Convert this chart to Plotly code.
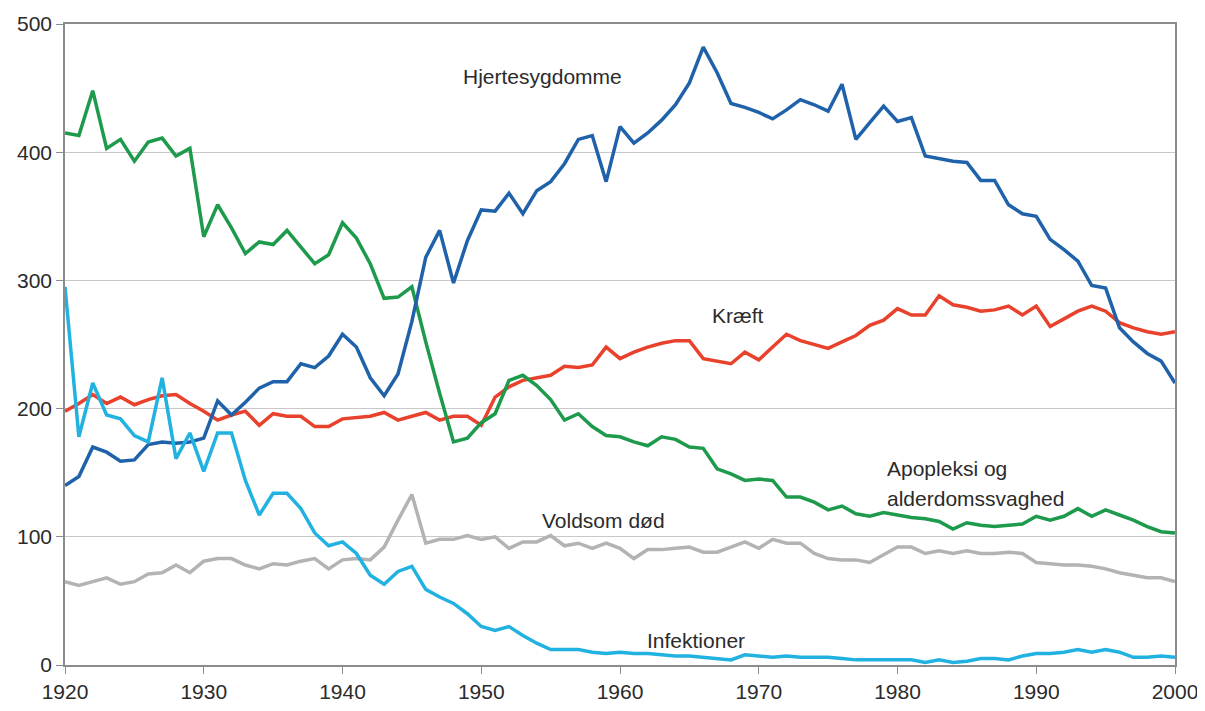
import plotly.graph_objects as go

years = list(range(1920, 2001))

hjerte = [140, 147, 170, 166, 159, 160, 172, 174, 173, 174,
          177, 206, 195, 205, 216, 221, 221, 235, 232, 241,
          258, 248, 224, 210, 227, 268, 318, 339, 298, 331,
          355, 354, 368, 352, 370, 377, 391, 410, 413, 377,
          420, 407, 415, 425, 437, 454, 482, 462, 438, 435,
          431, 426, 433, 441, 437, 432, 453, 410, 423, 436,
          424, 427, 397, 395, 393, 392, 378, 378, 359, 352,
          350, 332, 324, 315, 296, 294, 263, 252, 243, 237,
          220]

kraeft = [198, 204, 211, 204, 209, 203, 207, 210, 211, 204,
          198, 191, 195, 198, 187, 196, 194, 194, 186, 186,
          192, 193, 194, 197, 191, 194, 197, 191, 194, 194,
          187, 209, 217, 222, 224, 226, 233, 232, 234, 248,
          239, 244, 248, 251, 253, 253, 239, 237, 235, 244,
          238, 248, 258, 253, 250, 247, 252, 257, 265, 269,
          278, 273, 273, 288, 281, 279, 276, 277, 280, 273,
          280, 264, 270, 276, 280, 276, 267, 263, 260, 258,
          260]

apopleksi = [415, 413, 448, 403, 410, 393, 408, 411, 397, 403,
             334, 359, 341, 321, 330, 328, 339, 326, 313, 320,
             345, 333, 313, 286, 287, 295, 252, 212, 174, 177,
             189, 196, 222, 226, 218, 207, 191, 196, 186, 179,
             178, 174, 171, 178, 176, 170, 169, 153, 149, 144,
             145, 144, 131, 131, 127, 121, 124, 118, 116, 119,
             117, 115, 114, 112, 106, 111, 109, 108, 109, 110,
             116, 113, 116, 122, 116, 121, 117, 113, 108, 104,
             103]

voldsom = [65, 62, 65, 68, 63, 65, 71, 72, 78, 72,
           81, 83, 83, 78, 75, 79, 78, 81, 83, 75,
           82, 83, 82, 92, 113, 133, 95, 98, 98, 101,
           98, 100, 91, 96, 96, 101, 93, 95, 91, 95,
           91, 83, 90, 90, 91, 92, 88, 88, 92, 96,
           91, 98, 95, 95, 87, 83, 82, 82, 80, 86,
           92, 92, 87, 89, 87, 89, 87, 87, 88, 87,
           80, 79, 78, 78, 77, 75, 72, 70, 68, 68,
           65]

infektioner = [295, 178, 220, 195, 192, 179, 174, 224, 161, 181,
               151, 181, 181, 144, 117, 134, 134, 122, 103, 93,
               96, 87, 70, 63, 73, 77, 59, 53, 48, 40,
               30, 27, 30, 23, 17, 12, 12, 12, 10, 9,
               10, 9, 9, 8, 7, 7, 6, 5, 4, 8,
               7, 6, 7, 6, 6, 6, 5, 4, 4, 4,
               4, 4, 2, 4, 2, 3, 5, 5, 4, 7,
               9, 9, 10, 12, 10, 12, 10, 6, 6, 7,
               6]

x_ticks = [1920, 1930, 1940, 1950, 1960, 1970, 1980, 1990, 2000]
y_ticks = [0, 100, 200, 300, 400, 500]

series = [
    ("Voldsom død", voldsom, "#b3b3b3"),
    ("Kræft", kraeft, "#e8412c"),
    ("Apopleksi og alderdomssvaghed", apopleksi, "#1e9a4c"),
    ("Hjertesygdomme", hjerte, "#1f62aa"),
    ("Infektioner", infektioner, "#22b2e2"),
]

fig = go.Figure()
for name, vals, col in series:
    fig.add_trace(go.Scatter(x=years, y=vals, mode="lines", name=name,
                             line=dict(color=col, width=3.5)))

txt_font = dict(family="Liberation Sans, Arial, sans-serif", size=21, color="#2b2b2b")
labels = [
    ("Hjertesygdomme", 1954.4, 459, "center"),
    ("Kræft", 1968.5, 273, "center"),
    ("Voldsom død", 1958.8, 113, "center"),
    ("Infektioner", 1965.5, 19.5, "center"),
    ("Apopleksi og", 1979.1, 153.5, "left"),
    ("alderdomssvaghed", 1979.1, 130, "left"),
]
for t, xx, yy, anc in labels:
    fig.add_annotation(x=xx, y=yy, xref="x", yref="y", text=t, showarrow=False,
                       xanchor=anc, yanchor="middle", font=txt_font)

fig.update_layout(
    width=1197, height=703,
    margin=dict(l=57, r=30, t=16, b=46),
    paper_bgcolor="white", plot_bgcolor="white",
    showlegend=False,
    font=dict(family="Liberation Sans, Arial, sans-serif", size=21, color="#2b2b2b"),
)
fig.update_xaxes(range=[1920, 2000], tickvals=x_ticks, ticks="outside", ticklen=7,
                 tickcolor="#8c8c8c", showgrid=False, showline=True, linecolor="#8c8c8c",
                 linewidth=1.5, mirror=True, zeroline=False, automargin=False)
fig.update_yaxes(range=[0, 500], tickvals=y_ticks, ticks="outside", ticklen=7,
                 tickcolor="#8c8c8c", showgrid=True, gridcolor="#c8c8c8", gridwidth=1,
                 showline=True, linecolor="#8c8c8c", linewidth=1.5, mirror=True,
                 zeroline=False, automargin=False)

fig.write_html("out.html")
